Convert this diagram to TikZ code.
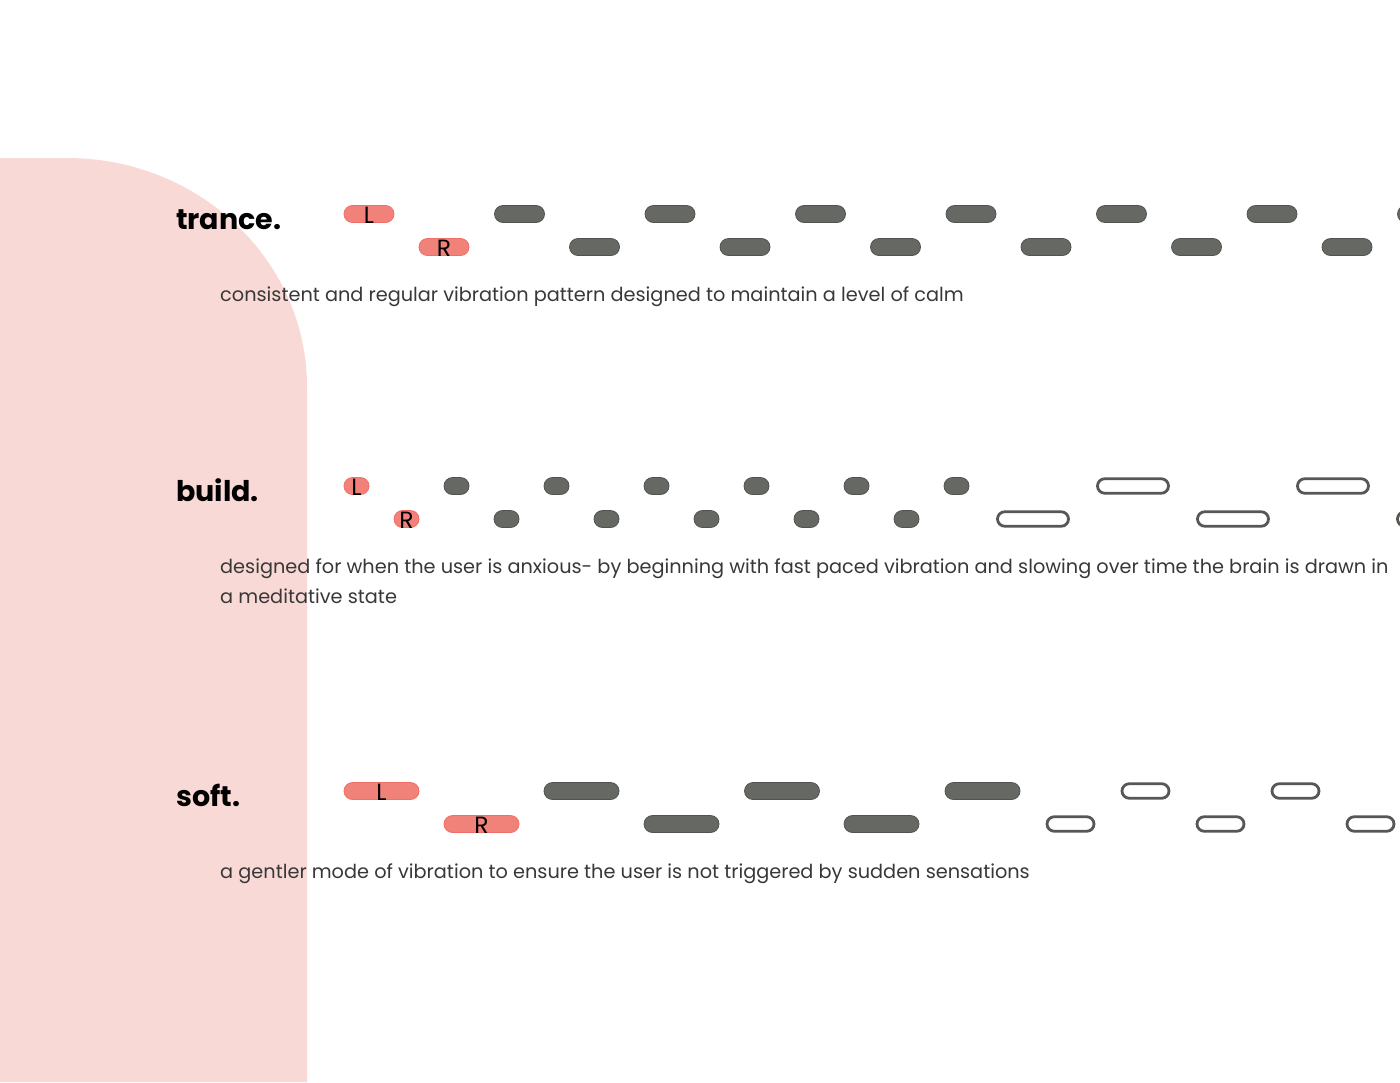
\documentclass[tikz,border=0pt]{standalone}
\usepackage{fontspec}
\setmainfont{Poppins}
\usetikzlibrary{shapes.misc}
\definecolor{blush}{HTML}{F9D9D5}
\definecolor{salmon}{HTML}{F0827A}
\definecolor{slate}{HTML}{666864}
\newcommand{\lowtag}[1]{\raisebox{-9pt}[0pt][0pt]{#1}}
\begin{document}
\begin{tikzpicture}[x=1pt, y=-1pt,
  pill/.style={rounded rectangle, inner sep=0pt, minimum height=17pt, line width=0.8pt},
  side/.style={pill, fill=salmon, draw=salmon!85!red, font=\fontsize{23.5}{24}\selectfont},
  buzz/.style={pill, fill=slate, draw=slate!80!black},
  hum/.style={pill, draw=slate!85!black, fill=white, line width=2.8pt, minimum height=14.5pt},
  title/.style={anchor=base west, inner sep=0pt, font=\fontsize{28.5}{30}\selectfont\bfseries},
  blurb/.style={anchor=base west, inner sep=0pt, text=black!78, font=\fontsize{19.3}{30}\selectfont, align=left}
]
\useasboundingbox (0,0) rectangle (1400,1082);
\clip (0,0) rectangle (1400,1082);
\fill[white] (0,0) rectangle (1400,1082);
% backdrop
\fill[blush] (0,1082) -- (0,158) -- (67,158)
  arc[start angle=-90, end angle=0, x radius=240, y radius=229] -- (307,1082) -- cycle;

% trance
\node[title] (trance) at (176,229) {trance.};
\node[side, minimum width=50pt] (trance-l) at (369,214) {\lowtag{L}};
\node[side, minimum width=50pt] (trance-r) at (444,247) {\lowtag{R}};
\foreach \k in {1,...,7}
  \node[buzz, minimum width=50pt] (trance-a\k) at (369+150.5*\k,214) {};
\foreach \k in {1,...,6}
  \node[buzz, minimum width=50pt] (trance-b\k) at (444+150.5*\k,247) {};
\node[blurb] (trance-txt) at (220,301) {consistent and regular vibration pattern designed to maintain a level of calm};

% build
\node[title] (build) at (176,501) {build.};
\node[side, minimum width=25pt] (build-l) at (356.5,486) {\lowtag{L}};
\node[side, minimum width=25pt] (build-r) at (406.5,519) {\lowtag{R}};
\foreach \k in {0,...,5}
  \node[buzz, minimum width=25pt] (build-a\k) at (456.5+100*\k,486) {};
\foreach \k in {0,...,4}
  \node[buzz, minimum width=25pt] (build-b\k) at (506.5+100*\k,519) {};
\foreach \k in {0,1}
  \node[hum, minimum width=71pt] (build-c\k) at (1133+200*\k,486) {};
\foreach \k in {0,1,2}
  \node[hum, minimum width=71pt] (build-d\k) at (1033+200*\k,519) {};
\node[blurb] (build-txt) at (220,603) {designed for when the user is anxious- by beginning with fast paced vibration and slowing over time the brain is drawn in\\a meditative state};

% soft
\node[title] (soft) at (176,806) {soft.};
\node[side, minimum width=75pt] (soft-l) at (381.5,791) {\lowtag{L}};
\node[side, minimum width=75pt] (soft-r) at (481.5,824) {\lowtag{R}};
\foreach \k in {0,1,2}
  \node[buzz, minimum width=75pt] (soft-a\k) at (581.5+200.5*\k,791) {};
\foreach \k in {0,1}
  \node[buzz, minimum width=75pt] (soft-b\k) at (681.5+200*\k,824) {};
\foreach \k in {0,1}
  \node[hum, minimum width=47pt] (soft-c\k) at (1145.5+150*\k,791) {};
\foreach \k in {0,1,2}
  \node[hum, minimum width=47pt] (soft-d\k) at (1070.5+150*\k,824) {};
\node[blurb] (soft-txt) at (220,878) {a gentler mode of vibration to ensure the user is not triggered by sudden sensations};
\end{tikzpicture}
\end{document}
